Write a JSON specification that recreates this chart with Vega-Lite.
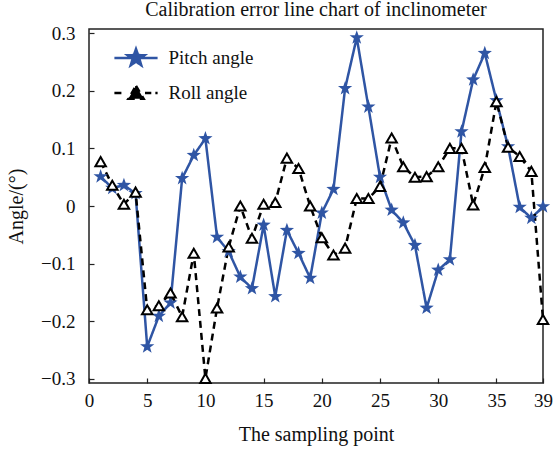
{
  "$schema": "https://vega.github.io/schema/vega-lite/v6.json",
  "width": 454,
  "height": 354,
  "autosize": {"type": "none"},
  "padding": {"left": 89, "top": 29, "right": 12, "bottom": 66},
  "background": "white",
  "config": {"font": "Liberation Serif", "view": {"stroke": "#222", "strokeWidth": 1.5}},
  "title": {"text": "Calibration error line chart of inclinometer", "fontSize": 20, "fontWeight": "normal", "font": "Liberation Serif", "color": "#111", "anchor": "middle", "frame": "group", "offset": 4},
  "data": {"values": [
    {"sample": 1, "sensor": "Pitch angle", "error": 0.051},
    {"sample": 2, "sensor": "Pitch angle", "error": 0.031},
    {"sample": 3, "sensor": "Pitch angle", "error": 0.036},
    {"sample": 4, "sensor": "Pitch angle", "error": 0.022},
    {"sample": 5, "sensor": "Pitch angle", "error": -0.244},
    {"sample": 6, "sensor": "Pitch angle", "error": -0.191},
    {"sample": 7, "sensor": "Pitch angle", "error": -0.168},
    {"sample": 8, "sensor": "Pitch angle", "error": 0.048},
    {"sample": 9, "sensor": "Pitch angle", "error": 0.088},
    {"sample": 10, "sensor": "Pitch angle", "error": 0.117},
    {"sample": 11, "sensor": "Pitch angle", "error": -0.054},
    {"sample": 12, "sensor": "Pitch angle", "error": -0.079},
    {"sample": 13, "sensor": "Pitch angle", "error": -0.123},
    {"sample": 14, "sensor": "Pitch angle", "error": -0.143},
    {"sample": 15, "sensor": "Pitch angle", "error": -0.033},
    {"sample": 16, "sensor": "Pitch angle", "error": -0.157},
    {"sample": 17, "sensor": "Pitch angle", "error": -0.042},
    {"sample": 18, "sensor": "Pitch angle", "error": -0.082},
    {"sample": 19, "sensor": "Pitch angle", "error": -0.125},
    {"sample": 20, "sensor": "Pitch angle", "error": -0.012},
    {"sample": 21, "sensor": "Pitch angle", "error": 0.029},
    {"sample": 22, "sensor": "Pitch angle", "error": 0.204},
    {"sample": 23, "sensor": "Pitch angle", "error": 0.292},
    {"sample": 24, "sensor": "Pitch angle", "error": 0.172},
    {"sample": 25, "sensor": "Pitch angle", "error": 0.05},
    {"sample": 26, "sensor": "Pitch angle", "error": -0.007},
    {"sample": 27, "sensor": "Pitch angle", "error": -0.029},
    {"sample": 28, "sensor": "Pitch angle", "error": -0.068},
    {"sample": 29, "sensor": "Pitch angle", "error": -0.177},
    {"sample": 30, "sensor": "Pitch angle", "error": -0.111},
    {"sample": 31, "sensor": "Pitch angle", "error": -0.093},
    {"sample": 32, "sensor": "Pitch angle", "error": 0.129},
    {"sample": 33, "sensor": "Pitch angle", "error": 0.219},
    {"sample": 34, "sensor": "Pitch angle", "error": 0.265},
    {"sample": 35, "sensor": "Pitch angle", "error": 0.183},
    {"sample": 36, "sensor": "Pitch angle", "error": 0.103},
    {"sample": 37, "sensor": "Pitch angle", "error": -0.002},
    {"sample": 38, "sensor": "Pitch angle", "error": -0.021},
    {"sample": 39, "sensor": "Pitch angle", "error": -0.001},
    {"sample": 1, "sensor": "Roll angle", "error": 0.077},
    {"sample": 2, "sensor": "Roll angle", "error": 0.036},
    {"sample": 3, "sensor": "Roll angle", "error": 0.003},
    {"sample": 4, "sensor": "Roll angle", "error": 0.024},
    {"sample": 5, "sensor": "Roll angle", "error": -0.18},
    {"sample": 6, "sensor": "Roll angle", "error": -0.173},
    {"sample": 7, "sensor": "Roll angle", "error": -0.151},
    {"sample": 8, "sensor": "Roll angle", "error": -0.192},
    {"sample": 9, "sensor": "Roll angle", "error": -0.082},
    {"sample": 10, "sensor": "Roll angle", "error": -0.299},
    {"sample": 11, "sensor": "Roll angle", "error": -0.177},
    {"sample": 12, "sensor": "Roll angle", "error": -0.071},
    {"sample": 13, "sensor": "Roll angle", "error": 0.0},
    {"sample": 14, "sensor": "Roll angle", "error": -0.056},
    {"sample": 15, "sensor": "Roll angle", "error": 0.003},
    {"sample": 16, "sensor": "Roll angle", "error": 0.006},
    {"sample": 17, "sensor": "Roll angle", "error": 0.083},
    {"sample": 18, "sensor": "Roll angle", "error": 0.065},
    {"sample": 19, "sensor": "Roll angle", "error": 0.0},
    {"sample": 20, "sensor": "Roll angle", "error": -0.055},
    {"sample": 21, "sensor": "Roll angle", "error": -0.085},
    {"sample": 22, "sensor": "Roll angle", "error": -0.073},
    {"sample": 23, "sensor": "Roll angle", "error": 0.013},
    {"sample": 24, "sensor": "Roll angle", "error": 0.013},
    {"sample": 25, "sensor": "Roll angle", "error": 0.034},
    {"sample": 26, "sensor": "Roll angle", "error": 0.118},
    {"sample": 27, "sensor": "Roll angle", "error": 0.068},
    {"sample": 28, "sensor": "Roll angle", "error": 0.05},
    {"sample": 29, "sensor": "Roll angle", "error": 0.051},
    {"sample": 30, "sensor": "Roll angle", "error": 0.068},
    {"sample": 31, "sensor": "Roll angle", "error": 0.1},
    {"sample": 32, "sensor": "Roll angle", "error": 0.1},
    {"sample": 33, "sensor": "Roll angle", "error": 0.002},
    {"sample": 34, "sensor": "Roll angle", "error": 0.067},
    {"sample": 35, "sensor": "Roll angle", "error": 0.181},
    {"sample": 36, "sensor": "Roll angle", "error": 0.102},
    {"sample": 37, "sensor": "Roll angle", "error": 0.086},
    {"sample": 38, "sensor": "Roll angle", "error": 0.06},
    {"sample": 39, "sensor": "Roll angle", "error": -0.197}
  ]},
  "encoding": {
    "x": {"field": "sample", "type": "quantitative", "scale": {"domain": [0, 39], "nice": false, "zero": false},
      "axis": {"values": [0, 5, 10, 15, 20, 25, 30, 35, 39], "format": "d", "grid": false, "domain": false, "tickSize": -5, "tickColor": "#222", "tickWidth": 1.2, "labelPadding": 13, "labelFlush": false, "labelFontSize": 19, "labelColor": "#111", "labelFont": "Liberation Serif", "title": "The sampling point", "titleFontSize": 20, "titleFontWeight": "normal", "titleFont": "Liberation Serif", "titleColor": "#111", "titlePadding": 14}},
    "y": {"field": "error", "type": "quantitative", "scale": {"domain": [-0.307, 0.307], "nice": false, "zero": false},
      "axis": {"values": [-0.3, -0.2, -0.1, 0, 0.1, 0.2, 0.3], "format": "~g", "grid": false, "domain": false, "tickSize": -5, "tickColor": "#222", "tickWidth": 1.2, "labelPadding": 19, "labelFontSize": 19, "labelColor": "#111", "labelFont": "Liberation Serif", "title": "Angle/(°)", "titleFontSize": 20, "titleFontWeight": "normal", "titleFont": "Liberation Serif", "titleColor": "#111", "titlePadding": 14}}
  },
  "layer": [
    {"mark": {"type": "line", "strokeWidth": 2.5},
     "encoding": {
       "color": {"field": "sensor", "type": "nominal", "scale": {"domain": ["Pitch angle", "Roll angle"], "range": ["#2f55a4", "#000000"]},
         "legend": {"orient": "none", "legendX": 36.5, "legendY": 18.5, "title": null, "padding": 0, "labelFont": "Liberation Serif", "labelFontSize": 19, "labelColor": "#111", "labelOffset": 22, "rowPadding": 10, "symbolSize": 324,
           "encode": {"symbols": {"update": {
             "shape": {"signal": "datum.value === 'Pitch angle' ? 'M-2.4,0H2.4M0,-1L0.235,-0.324L0.951,-0.309L0.38,0.124L0.588,0.809L0,0.4L-0.588,0.809L-0.38,0.124L-0.951,-0.309L-0.235,-0.324Z' : 'M-2.4,0H-1.1M1.0,0H1.7M2.15,0H2.4M0,-0.8L0.85,0.65L-0.85,0.65Z'"},
             "fill": {"signal": "datum.value === 'Pitch angle' ? '#2f55a4' : '#000000'"},
             "stroke": {"signal": "datum.value === 'Pitch angle' ? '#2f55a4' : '#000000'"},
             "strokeDash": {"value": [1, 0]},
             "strokeWidth": {"value": 2.5},
             "size": {"value": 324},
             "opacity": {"value": 1}
           }}}}},
       "strokeDash": {"field": "sensor", "type": "nominal", "scale": {"domain": ["Pitch angle", "Roll angle"], "range": [[1, 0], [7, 5]]}, "legend": null}
     }},
    {"transform": [{"filter": "datum.sensor === 'Pitch angle'"}],
     "mark": {"type": "point", "shape": "M0,-1L0.235,-0.324L0.951,-0.309L0.38,0.124L0.588,0.809L0,0.4L-0.588,0.809L-0.38,0.124L-0.951,-0.309L-0.235,-0.324Z", "filled": true, "color": "#2f55a4", "size": 225, "opacity": 1},
     "encoding": {}},
    {"transform": [{"filter": "datum.sensor === 'Roll angle'"}],
     "mark": {"type": "point", "shape": "triangle-up", "filled": true, "fill": "#ffffff", "stroke": "#000000", "strokeWidth": 2, "size": 110, "opacity": 1},
     "encoding": {}}
  ]
}
